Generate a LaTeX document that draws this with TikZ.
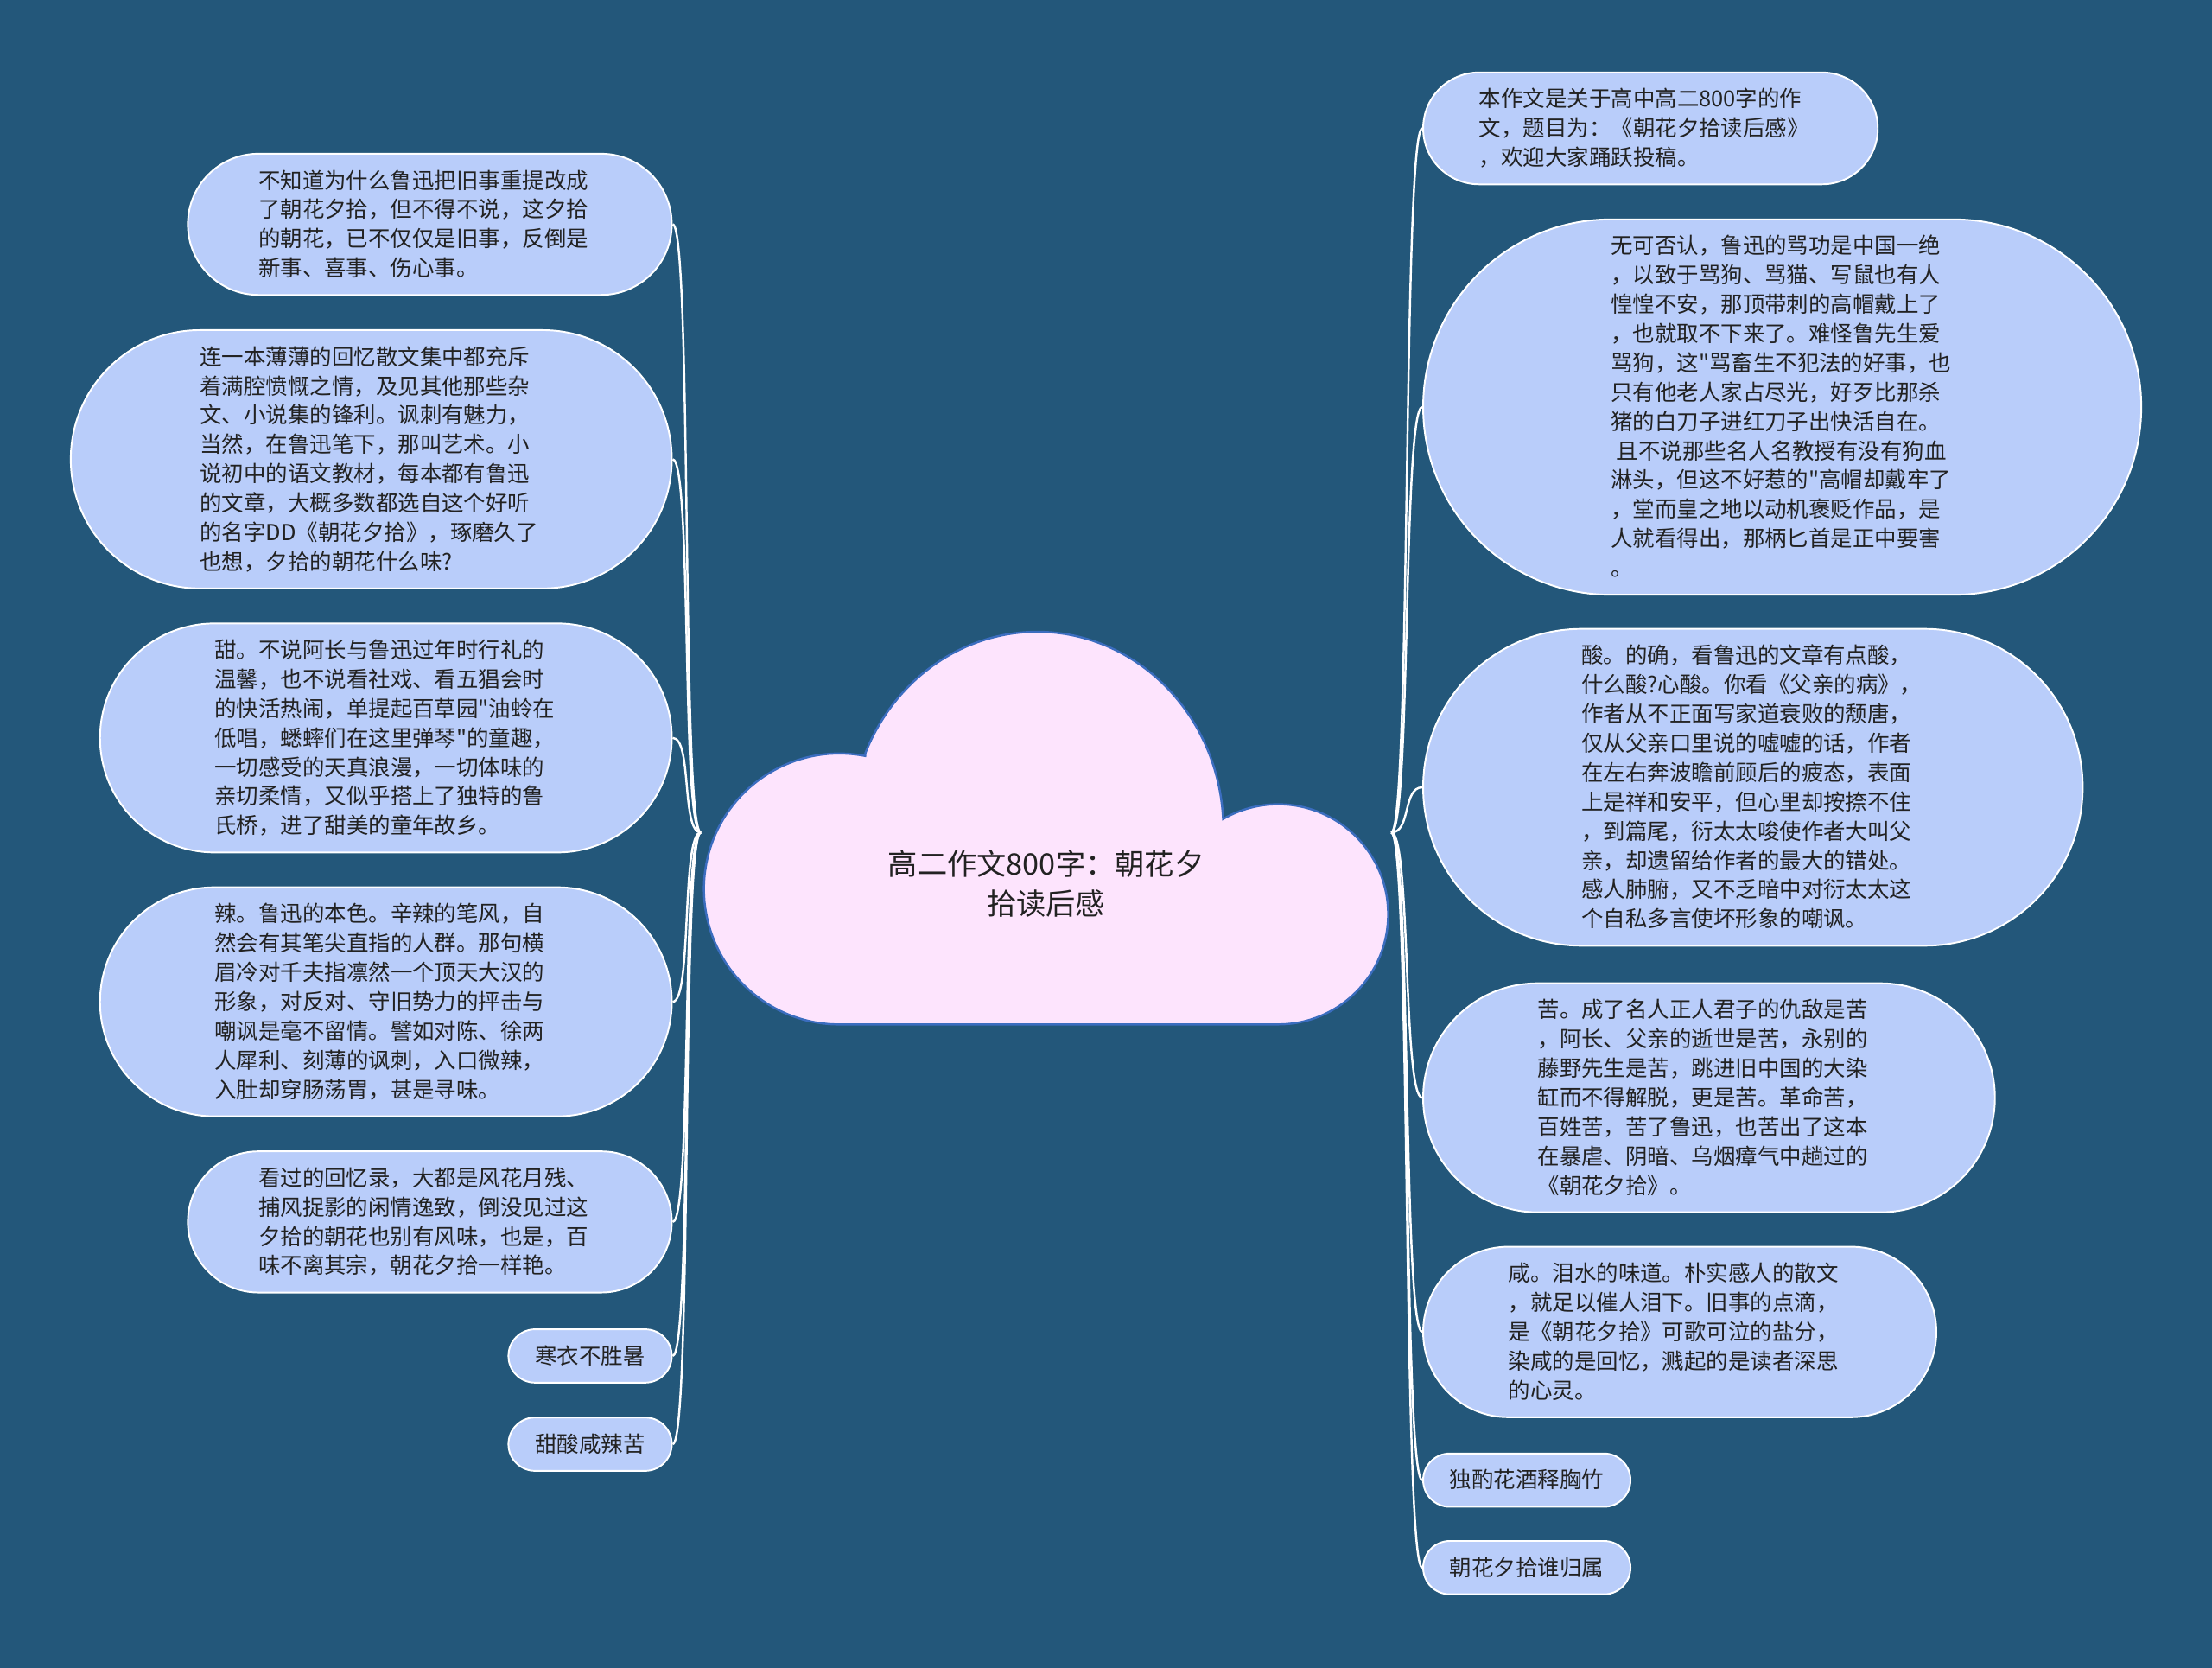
\documentclass[tikz,border=0pt]{standalone}
\usepackage{fontspec}
\newfontfamily\zhfont{Noto Sans CJK SC}
\usepackage{xcolor}
\usepackage{tikz}
\usetikzlibrary{shapes.misc, positioning}
\definecolor{bgblue}{HTML}{23577A}
\definecolor{leafblue}{HTML}{B9CDFA}
\definecolor{cloudpink}{HTML}{FDE4FD}
\definecolor{cloudedge}{HTML}{3B6DBF}
\definecolor{ink}{HTML}{222222}
\tikzset{leafbase/.style={ % requires library shapes.misc
          draw=white,
          fill=leafblue,
          rounded rectangle,
          line width=1.2pt,
          inner sep=0pt,
          text=ink,
          font=\zhfont\fontsize{15.6pt}{20.75pt}\selectfont,
          execute at begin node={\rule{0pt}{24.6pt}},
          execute at end node={\rule[-13.2pt]{0pt}{0pt}}
     }}
\tikzset{leaf/.style={
          leafbase,
          text width=243pt,
          align=left
     }}
\tikzset{tag/.style={
          leafbase
     }}
\tikzset{hub/.style={
          rectangle,
          minimum width=489pt,
          minimum height=276pt,
          inner sep=0pt,
          text=ink,
          font=\zhfont\fontsize{21pt}{28pt}\selectfont
     }}
\tikzstyle{branch} = [white, line width=1.5pt]
\tikzstyle{cloudline} = [draw=cloudedge, fill=cloudpink, line width=1.5pt]
\newcommand{\droptext}[1]{\raisebox{-44pt}[0pt][0pt]{\begin{tabular}{@{}c@{}}#1\end{tabular}}}

\begin{document}
\begin{tikzpicture}[x=1pt, y=1pt]
\useasboundingbox (0,0) rectangle (1568,1182);
\fill [bgblue] (0,0) rectangle (1568,1182);

% the cloud round the main topic
\filldraw [cloudline] (613.3,646.2) arc[start angle=79, end angle=270, radius=96]
     -- (906,456) arc[start angle=-90, end angle=120, radius=78]
     arc[start angle=3, end angle=157.2, x radius=132, y radius=140] -- cycle;
\node (root) [hub] at (741.5,592) {\droptext{高二作文800字：朝花夕\\拾读后感}};

\node (l1) [leaf, above left=431pt and 20pt of root.west, anchor=east] {不知道为什么鲁迅把旧事重提改成\\
了朝花夕拾，但不得不说，这夕拾\\
的朝花，已不仅仅是旧事，反倒是\\
新事、喜事、伤心事。};
\node (l2) [leaf, above left=264.5pt and 20pt of root.west, anchor=east] {连一本薄薄的回忆散文集中都充斥\\
着满腔愤慨之情，及见其他那些杂\\
文、小说集的锋利。讽刺有魅力，\\
当然，在鲁迅笔下，那叫艺术。小\\
说初中的语文教材，每本都有鲁迅\\
的文章，大概多数都选自这个好听\\
的名字DD《朝花夕拾》，琢磨久了\\
也想，夕拾的朝花什么味?};
\node (l3) [leaf, above left=67pt and 20pt of root.west, anchor=east] {甜。不说阿长与鲁迅过年时行礼的\\
温馨，也不说看社戏、看五猖会时\\
的快活热闹，单提起百草园"油蛉在\\
低唱，蟋蟀们在这里弹琴"的童趣，\\
一切感受的天真浪漫，一切体味的\\
亲切柔情，又似乎搭上了独特的鲁\\
氏桥，进了甜美的童年故乡。};
\node (l4) [leaf, below left=120pt and 20pt of root.west, anchor=east] {辣。鲁迅的本色。辛辣的笔风，自\\
然会有其笔尖直指的人群。那句横\\
眉冷对千夫指凛然一个顶天大汉的\\
形象，对反对、守旧势力的抨击与\\
嘲讽是毫不留情。譬如对陈、徐两\\
人犀利、刻薄的讽刺，入口微辣，\\
入肚却穿肠荡胃，甚是寻味。};
\node (l5) [leaf, below left=276pt and 20pt of root.west, anchor=east] {看过的回忆录，大都是风花月残、\\
捕风捉影的闲情逸致，倒没见过这\\
夕拾的朝花也别有风味，也是，百\\
味不离其宗，朝花夕拾一样艳。};
\node (l6) [tag, below left=371pt and 20pt of root.west, anchor=east] {寒衣不胜暑};
\node (l7) [tag, below left=433.5pt and 20pt of root.west, anchor=east] {甜酸咸辣苦};

\node (r1) [leaf, above right=499pt and 22pt of root.east, anchor=west] {本作文是关于高中高二800字的作\\
文，题目为：《朝花夕拾读后感》\\
，欢迎大家踊跃投稿。};
\node (r2) [leaf, above right=301.5pt and 22pt of root.east, anchor=west] {无可否认，鲁迅的骂功是中国一绝\\
，以致于骂狗、骂猫、写鼠也有人\\
惶惶不安，那顶带刺的高帽戴上了\\
，也就取不下来了。难怪鲁先生爱\\
骂狗，这"骂畜生不犯法的好事，也\\
只有他老人家占尽光，好歹比那杀\\
猪的白刀子进红刀子出快活自在。\\
\hspace*{4pt}且不说那些名人名教授有没有狗血\\
淋头，但这不好惹的"高帽却戴牢了\\
，堂而皇之地以动机褒贬作品，是\\
人就看得出，那柄匕首是正中要害\\
。};
\node (r3) [leaf, above right=32pt and 22pt of root.east, anchor=west] {酸。的确，看鲁迅的文章有点酸，\\
什么酸?心酸。你看《父亲的病》，\\
作者从不正面写家道衰败的颓唐，\\
仅从父亲口里说的嘘嘘的话，作者\\
在左右奔波瞻前顾后的疲态，表面\\
上是祥和安平，但心里却按捺不住\\
，到篇尾，衍太太唆使作者大叫父\\
亲，却遗留给作者的最大的错处。\\
感人肺腑，又不乏暗中对衍太太这\\
个自私多言使坏形象的嘲讽。};
\node (r4) [leaf, below right=188pt and 22pt of root.east, anchor=west] {苦。成了名人正人君子的仇敌是苦\\
，阿长、父亲的逝世是苦，永别的\\
藤野先生是苦，跳进旧中国的大染\\
缸而不得解脱，更是苦。革命苦，\\
百姓苦，苦了鲁迅，也苦出了这本\\
在暴虐、阴暗、乌烟瘴气中趟过的\\
《朝花夕拾》。};
\node (r5) [leaf, below right=354pt and 22pt of root.east, anchor=west] {咸。泪水的味道。朴实感人的散文\\
，就足以催人泪下。旧事的点滴，\\
是《朝花夕拾》可歌可泣的盐分，\\
染咸的是回忆，溅起的是读者深思\\
的心灵。};
\node (r6) [tag, below right=459pt and 22pt of root.east, anchor=west] {独酌花酒释胸竹};
\node (r7) [tag, below right=521pt and 22pt of root.east, anchor=west] {朝花夕拾谁归属};

\draw [branch] (root.west) .. controls +(-14,0) and +(14,0) .. (l1.east);
\draw [branch] (root.west) .. controls +(-14,0) and +(14,0) .. (l2.east);
\draw [branch] (root.west) .. controls +(-14,0) and +(14,0) .. (l3.east);
\draw [branch] (root.west) .. controls +(-14,0) and +(14,0) .. (l4.east);
\draw [branch] (root.west) .. controls +(-14,0) and +(14,0) .. (l5.east);
\draw [branch] (root.west) .. controls +(-14,0) and +(14,0) .. (l6.east);
\draw [branch] (root.west) .. controls +(-14,0) and +(14,0) .. (l7.east);
\draw [branch] (root.east) .. controls +(14,0) and +(-14,0) .. (r1.west);
\draw [branch] (root.east) .. controls +(14,0) and +(-14,0) .. (r2.west);
\draw [branch] (root.east) .. controls +(14,0) and +(-14,0) .. (r3.west);
\draw [branch] (root.east) .. controls +(14,0) and +(-14,0) .. (r4.west);
\draw [branch] (root.east) .. controls +(14,0) and +(-14,0) .. (r5.west);
\draw [branch] (root.east) .. controls +(14,0) and +(-14,0) .. (r6.west);
\draw [branch] (root.east) .. controls +(14,0) and +(-14,0) .. (r7.west);
\end{tikzpicture}
\end{document}
